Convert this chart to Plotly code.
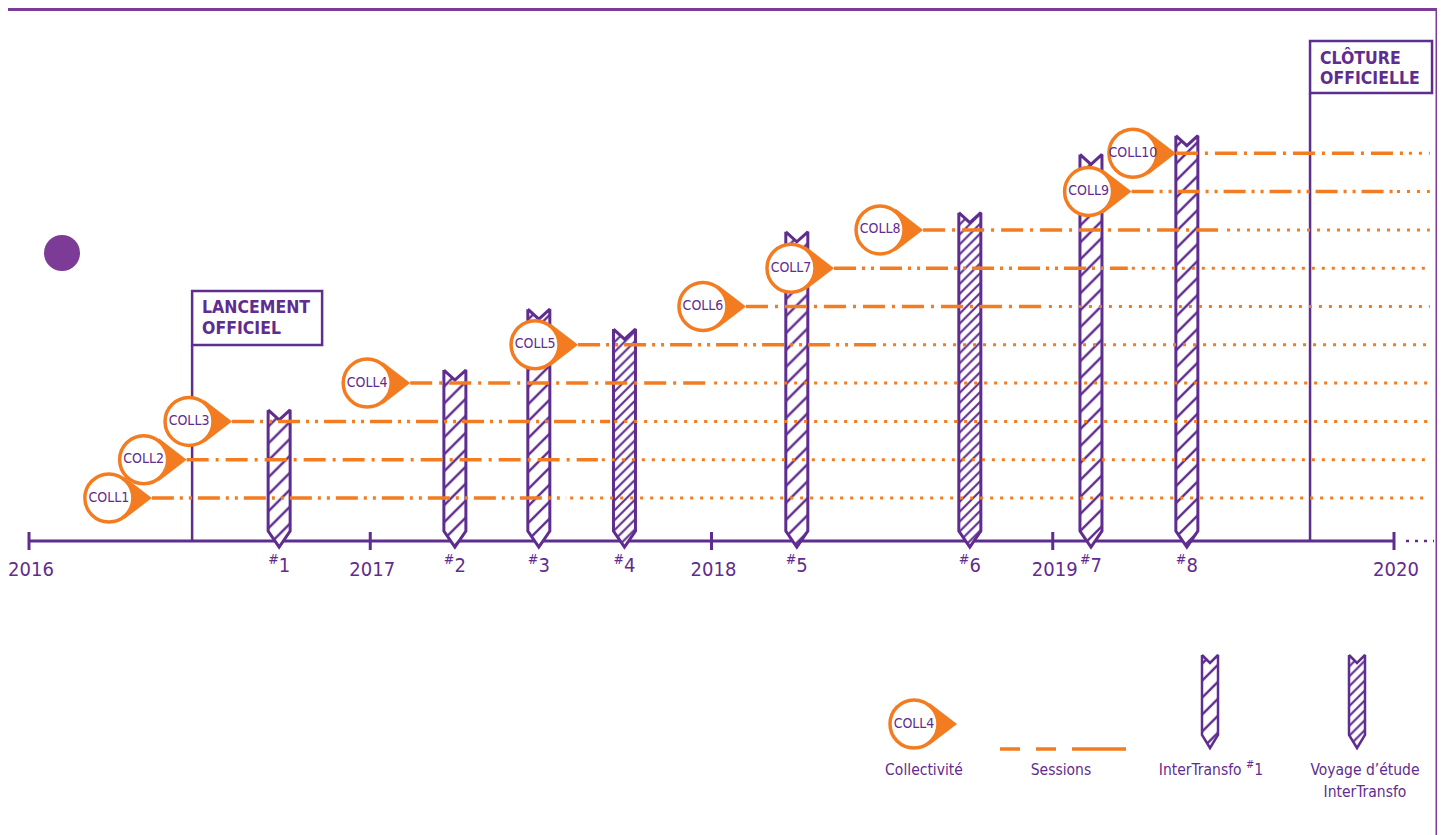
import plotly.graph_objects as go

# ---------------- data ----------------
years = [2016, 2017, 2018, 2019, 2020]
year_labels = ["2016", "2017", "2018", "2019", "2020"]

coll_names = ["COLL1", "COLL2", "COLL3", "COLL4", "COLL5",
              "COLL6", "COLL7", "COLL8", "COLL9", "COLL10"]
coll_rows = [1, 2, 3, 4, 5, 6, 7, 8, 9, 10]
session_start = [2016.360, 2016.462, 2016.595, 2017.117, 2017.609,
                 2018.101, 2018.359, 2018.620, 2019.231, 2019.361]
session_end = [2017.574, 2017.667, 2017.703, 2017.996, 2018.491,
               2018.977, 2019.220, 2019.499, 2019.997, 2020.032]
horizon = 2020.105

event_labels = ["#1", "#2", "#3", "#4", "#5", "#6", "#7", "#8"]
event_dates = [2016.733, 2017.248, 2017.494, 2017.745,
               2018.250, 2018.757, 2019.112, 2019.393]
event_heights = [3.30, 4.34, 5.93, 5.41, 7.95, 8.45, 9.97, 10.46]
event_kinds = ["InterTransfo", "InterTransfo", "InterTransfo", "Voyage",
               "InterTransfo", "Voyage", "InterTransfo", "InterTransfo"]

milestone_dates = [2016.478, 2019.754]
milestone_text = [["LANCEMENT", "OFFICIEL"], ["CLÔTURE", "OFFICIELLE"]]

legend_labels = ["Collectivité", "Sessions", "InterTransfo <sup>#</sup>1",
                 "Voyage d’étude", "InterTransfo"]
legend_sample = "COLL4"

# ---------------- style ----------------
PURPLE = "#5f2c8f"
FRAME = "#7b3b96"
ORANGE = "#f47c20"
FONT = "DejaVu Sans Condensed, Liberation Sans Narrow, Roboto Condensed, Arial Narrow, sans-serif"
W, H = 1445, 835          # window size
OFF = 8                   # page body margin in the browser
FW, FH = W - OFF, H - OFF  # figure size so that it fits the window
PX_PER_YEAR = 341.25
PX_PER_ROW = 38.3
X0_PX, ROW1_PX = 29, 498


def xpx(px):
    return 2016 + (px - X0_PX) / PX_PER_YEAR


def ypx(py):
    return 1 + (ROW1_PX - py) / PX_PER_ROW


def dx(px):
    return px / PX_PER_YEAR


def dy(px):
    return px / PX_PER_ROW


def xpaper(px):
    return (px - OFF) / FW


def ypaper(py):
    return 1 - (py - OFF) / FH


AXIS_Y = ypx(541)
BAR_BOTTOM = ypx(531)
BAR_TIP = ypx(547)
BAR_HW = 11
NOTCH = 10
HATCH = {"InterTransfo": 12, "Voyage": 7}
SOLID = {"InterTransfo": 0.2, "Voyage": 0.3}
DASHES = ["22px,6px,3px,6px,3px,6px", "22px,7px,3px,7px"]

fig = go.Figure()


def bar_poly(xc, top, bottom, tip, hw_px, notch_px):
    h = dx(hw_px)
    xs = [xc - h, xc, xc + h, xc + h, xc, xc - h, xc - h]
    ys = [top, top - dy(notch_px), top, bottom, tip, bottom, top]
    return xs, ys


def add_bar(xc, top, bottom, tip, kind, hw_px=BAR_HW, notch_px=NOTCH, lw=3):
    xs, ys = bar_poly(xc, top, bottom, tip, hw_px, notch_px)
    fig.add_trace(go.Scatter(
        x=xs, y=ys, mode="lines", fill="toself", fillcolor="white",
        fillpattern=dict(shape="/", fgcolor=PURPLE, fgopacity=1, bgcolor="white",
                         size=HATCH[kind], solidity=SOLID[kind]),
        line=dict(color=PURPLE, width=lw), hoverinfo="skip"))


def add_bubbles(tips, rows, names):
    fig.add_trace(go.Scatter(
        x=[t - dx(18.5) for t in tips], y=rows, mode="markers",
        marker=dict(symbol="triangle-right", size=37, color=ORANGE,
                    line=dict(width=0)), hoverinfo="skip"))
    fig.add_trace(go.Scatter(
        x=[t - dx(43) for t in tips], y=rows, mode="markers+text",
        marker=dict(symbol="circle", size=48, color="white",
                    line=dict(color=ORANGE, width=3.5)),
        text=names, textposition="middle center",
        textfont=dict(family=FONT, size=14, color=PURPLE), hoverinfo="skip"))


# frame
fig.add_shape(type="line", xref="paper", yref="paper",
              x0=xpaper(0), x1=xpaper(1437), y0=ypaper(9.5), y1=ypaper(9.5),
              line=dict(color=FRAME, width=3))
fig.add_shape(type="line", xref="paper", yref="paper",
              x0=xpaper(1437), x1=xpaper(1437), y0=ypaper(9.5), y1=ypaper(H),
              line=dict(color=FRAME, width=3))

# decorative dot
fig.add_trace(go.Scatter(x=[xpx(62)], y=[ypx(253)], mode="markers",
                         marker=dict(size=36, color=FRAME), hoverinfo="skip"))

# time axis
fig.add_trace(go.Scatter(x=[years[0], years[-1]], y=[AXIS_Y, AXIS_Y], mode="lines",
                         line=dict(color=PURPLE, width=3), hoverinfo="skip"))
tx, ty = [], []
for yv in years:
    tx += [yv, yv, None]
    ty += [AXIS_Y + dy(9), AXIS_Y - dy(9), None]
fig.add_trace(go.Scatter(x=tx, y=ty, mode="lines",
                         line=dict(color=PURPLE, width=3), hoverinfo="skip"))
fig.add_trace(go.Scatter(x=[years[-1] + dx(12), years[-1] + dx(40)], y=[AXIS_Y, AXIS_Y],
                         mode="lines", line=dict(color=PURPLE, width=2.5, dash="3px,6px"),
                         hoverinfo="skip"))
fig.add_trace(go.Scatter(x=[y + dx(2) for y in years], y=[ypx(571)] * len(years),
                         mode="text", text=year_labels,
                         textfont=dict(family=FONT, size=20, color=PURPLE),
                         hoverinfo="skip"))

# milestones
box_top_px = [291, 41]
box_bot_px = [345, 93]
box_w_px = [130, 122]
for d, lines, bt, bb, bw in zip(milestone_dates, milestone_text, box_top_px, box_bot_px, box_w_px):
    fig.add_trace(go.Scatter(x=[d, d], y=[AXIS_Y, ypx(bb)], mode="lines",
                             line=dict(color=PURPLE, width=2.5), hoverinfo="skip"))
    fig.add_shape(type="rect", xref="x", yref="y", x0=d, x1=d + dx(bw),
                  y0=ypx(bb), y1=ypx(bt), line=dict(color=PURPLE, width=2.5),
                  fillcolor="white", layer="below")
    for k, t in enumerate(lines):
        fig.add_annotation(x=d + dx(8), y=ypx(bt + 16 + 21 * k), text="<b>%s</b>" % t,
                           xanchor="left", yanchor="middle", showarrow=False,
                           font=dict(family=FONT, size=17.5, color=PURPLE))

# InterTransfo bars
for d, top, kind in zip(event_dates, event_heights, event_kinds):
    add_bar(d, top, BAR_BOTTOM, BAR_TIP, kind)
fig.add_trace(go.Scatter(x=event_dates, y=[ypx(567)] * len(event_dates), mode="text",
                         text=["<sup>#</sup>" + e[1:] for e in event_labels],
                         textfont=dict(family=FONT, size=20, color=PURPLE),
                         hoverinfo="skip"))

# sessions
for i, (s, e, r) in enumerate(zip(session_start, session_end, coll_rows)):
    fig.add_trace(go.Scatter(x=[s, e], y=[r, r], mode="lines",
                             line=dict(color=ORANGE, width=3.5, dash=DASHES[i % 2]),
                             hoverinfo="skip"))
    fig.add_trace(go.Scatter(x=[e + dx(4), horizon], y=[r, r], mode="lines",
                             line=dict(color=ORANGE, width=3, dash="3px,7px"),
                             hoverinfo="skip"))
add_bubbles(session_start, coll_rows, coll_names)

# legend
add_bubbles([xpx(957)], [ypx(724)], [legend_sample])
fig.add_trace(go.Scatter(x=[xpx(1000), xpx(1126)], y=[ypx(749)] * 2, mode="lines",
                         line=dict(color=ORANGE, width=3.5, dash="20px,16px,20px,16px,54px,200px"),
                         hoverinfo="skip"))
add_bar(xpx(1210), ypx(655), ypx(735), ypx(748), "InterTransfo", hw_px=8, notch_px=8, lw=2.5)
add_bar(xpx(1357), ypx(655), ypx(735), ypx(748), "Voyage", hw_px=8, notch_px=8, lw=2.5)
leg_x = [924, 1061, 1211, 1365, 1365]
leg_y = [771, 771, 771, 771, 793]
fig.add_trace(go.Scatter(x=[xpx(v) for v in leg_x], y=[ypx(v) for v in leg_y],
                         mode="text", text=legend_labels,
                         textfont=dict(family=FONT, size=15.5, color=PURPLE),
                         hoverinfo="skip"))

fig.update_layout(
    width=FW, height=FH, margin=dict(l=0, r=0, t=0, b=0),
    paper_bgcolor="white", plot_bgcolor="white", showlegend=False,
    hovermode=False,
    xaxis=dict(visible=False, range=[xpx(OFF), xpx(W)], fixedrange=True),
    yaxis=dict(visible=False, range=[ypx(H), ypx(OFF)], fixedrange=True),
)
fig.write_html("out.html", config={"displayModeBar": False})
